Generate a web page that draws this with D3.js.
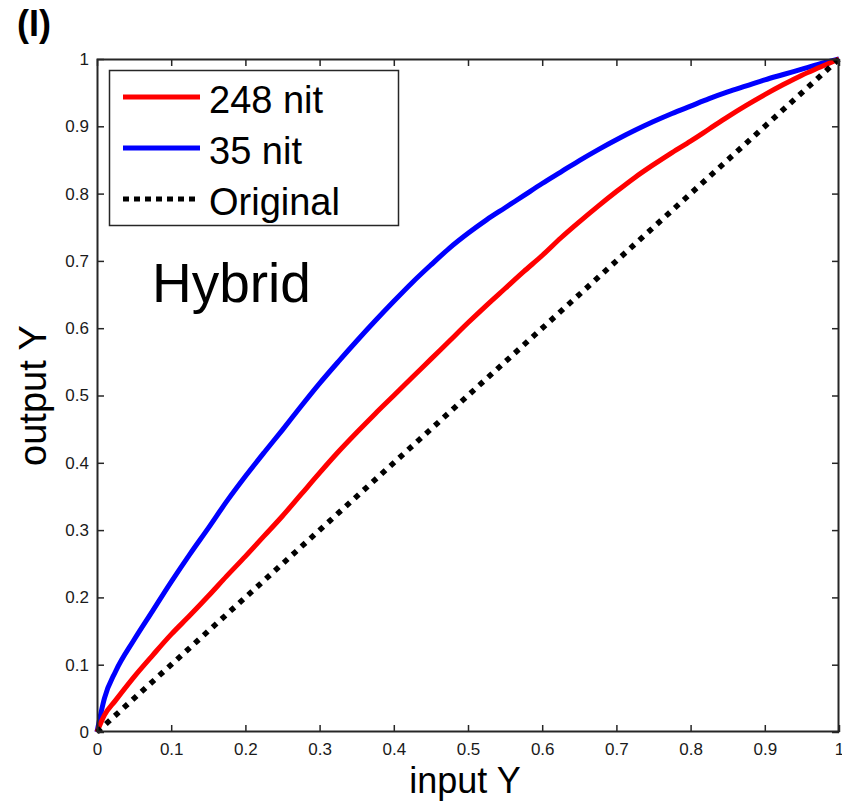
<!DOCTYPE html>
<html>
<head>
<meta charset="utf-8">
<script src="https://cdn.jsdelivr.net/npm/d3@7"></script>
<style>
  html, body { margin: 0; padding: 0; background: #fff; }
  svg { display: block; }
  text { font-family: "Liberation Sans", Arial, sans-serif; }
</style>
</head>
<body>
<svg id="chart" width="842" height="806"></svg>
<script>
// ---- data ----
const inputY = [0, 0.01, 0.025, 0.05, 0.075, 0.1, 0.125, 0.15, 0.175, 0.2, 0.225, 0.25, 0.275, 0.3, 0.325, 0.35, 0.375, 0.4, 0.425, 0.45, 0.475, 0.5, 0.525, 0.55, 0.575, 0.6, 0.625, 0.65, 0.675, 0.7, 0.725, 0.75, 0.775, 0.8, 0.825, 0.85, 0.875, 0.9, 0.925, 0.95, 0.975, 1];
const out248 = [0, 0.025, 0.047, 0.082, 0.114, 0.145, 0.173, 0.202, 0.232, 0.261, 0.291, 0.321, 0.353, 0.385, 0.416, 0.445, 0.473, 0.5, 0.527, 0.554, 0.581, 0.608, 0.634, 0.659, 0.684, 0.708, 0.734, 0.758, 0.781, 0.803, 0.824, 0.843, 0.861, 0.878, 0.896, 0.914, 0.931, 0.947, 0.962, 0.976, 0.988, 1];
const out35 = [0, 0.05, 0.09, 0.137, 0.18, 0.223, 0.264, 0.303, 0.343, 0.38, 0.415, 0.449, 0.484, 0.518, 0.55, 0.581, 0.611, 0.64, 0.668, 0.694, 0.719, 0.741, 0.761, 0.779, 0.797, 0.815, 0.832, 0.849, 0.865, 0.88, 0.894, 0.907, 0.919, 0.93, 0.941, 0.951, 0.96, 0.969, 0.977, 0.985, 0.993, 1];
const originalX = [0, 1];
const originalY = [0, 1];
const seriesNames = ["248 nit", "35 nit", "Original"];
const xTicks = [0, 0.1, 0.2, 0.3, 0.4, 0.5, 0.6, 0.7, 0.8, 0.9, 1];
const yTicks = [0, 0.1, 0.2, 0.3, 0.4, 0.5, 0.6, 0.7, 0.8, 0.9, 1];
const xTickLabels = ["0", "0.1", "0.2", "0.3", "0.4", "0.5", "0.6", "0.7", "0.8", "0.9", "1"];
const yTickLabels = ["0", "0.1", "0.2", "0.3", "0.4", "0.5", "0.6", "0.7", "0.8", "0.9", "1"];
const xLabel = "input Y";
const yLabel = "output Y";
const annotation = "Hybrid";
const panelLabel = "(I)";

// ---- layout ----
const L = 97, R = 839, T = 59, B = 732;
const svg = d3.select("#chart");
const x = d3.scaleLinear().domain([0, 1]).range([L, R]);
const y = d3.scaleLinear().domain([0, 1]).range([B, T]);
const axisColor = "#262626";

// curves
const line = d3.line().x(d => x(d[0])).y(d => y(d[1])).curve(d3.curveMonotoneX);
const plot = svg.append("g");
plot.append("path").datum(inputY.map((v, i) => [v, out35[i]]))
  .attr("d", line).attr("fill", "none").attr("stroke", "#0000ff").attr("stroke-width", 5);
plot.append("path").datum(inputY.map((v, i) => [v, out248[i]]))
  .attr("d", line).attr("fill", "none").attr("stroke", "#ff0000").attr("stroke-width", 5);
plot.append("path").datum(originalX.map((v, i) => [v, originalY[i]]))
  .attr("d", d3.line().x(d => x(d[0])).y(d => y(d[1])))
  .attr("fill", "none").attr("stroke", "#000").attr("stroke-width", 5.5)
  .attr("stroke-dasharray", "5.5 6.5");

// frame
svg.append("rect").attr("x", L + 0.5).attr("y", T + 0.5)
  .attr("width", R - L - 1).attr("height", B - T - 1)
  .attr("fill", "none").attr("stroke", axisColor).attr("stroke-width", 2);

// axes
function styleAxis(g) {
  g.select(".domain").remove();
  g.selectAll(".tick line").attr("stroke", axisColor).attr("stroke-width", 1.5);
  g.selectAll(".tick text").attr("fill", "#1a1a1a")
    .style("font-family", "'Liberation Sans', Arial, sans-serif").style("font-size", "17px");
}
svg.append("g").attr("transform", `translate(0,${B})`)
  .call(d3.axisBottom(x).tickValues(xTicks).tickFormat((d, i) => xTickLabels[i]).tickSize(-7).tickPadding(11))
  .call(styleAxis);
svg.append("g").attr("transform", `translate(0,${T})`)
  .call(d3.axisTop(x).tickValues(xTicks).tickFormat("").tickSize(-7))
  .call(styleAxis);
svg.append("g").attr("transform", `translate(${L},0)`)
  .call(d3.axisLeft(y).tickValues(yTicks).tickFormat((d, i) => yTickLabels[i]).tickSize(-7).tickPadding(8))
  .call(styleAxis);
svg.append("g").attr("transform", `translate(${R},0)`)
  .call(d3.axisRight(y).tickValues(yTicks).tickFormat("").tickSize(-7))
  .call(styleAxis);

// axis labels
svg.append("text").attr("x", (L + R) / 2 - 3).attr("y", 793)
  .attr("text-anchor", "middle").style("font-size", "36px").attr("fill", "#000").text(xLabel);
svg.append("text").attr("transform", `translate(46,${(T + B) / 2}) rotate(-90)`)
  .attr("text-anchor", "middle").style("font-size", "38px").attr("fill", "#000").text(yLabel);

// annotation
svg.append("text").attr("x", 152).attr("y", 302).style("font-size", "55px").attr("fill", "#000").text(annotation);

// panel label
svg.append("text").attr("x", 17).attr("y", 36)
  .style("font-weight", "bold").style("font-size", "36px").attr("fill", "#000").text(panelLabel);

// legend
const lg = svg.append("g");
lg.append("rect").attr("x", 109.5).attr("y", 70.5).attr("width", 289).attr("height", 155)
  .attr("fill", "#fff").attr("stroke", axisColor).attr("stroke-width", 1.5);
const legendStyles = [
  { color: "#ff0000", dash: null },
  { color: "#0000ff", dash: null },
  { color: "#000", dash: "6 5" }
];
seriesNames.forEach((name, i) => {
  const cy = 97 + i * 51;
  const l = lg.append("line").attr("x1", 123).attr("x2", 200).attr("y1", cy).attr("y2", cy)
    .attr("stroke", legendStyles[i].color).attr("stroke-width", 5);
  if (legendStyles[i].dash) l.attr("stroke-dasharray", legendStyles[i].dash).attr("x2", 198);
  lg.append("text").attr("x", 209).attr("y", cy + 16).style("font-size", "38px").attr("fill", "#000").text(name);
});
</script>
</body>
</html>
